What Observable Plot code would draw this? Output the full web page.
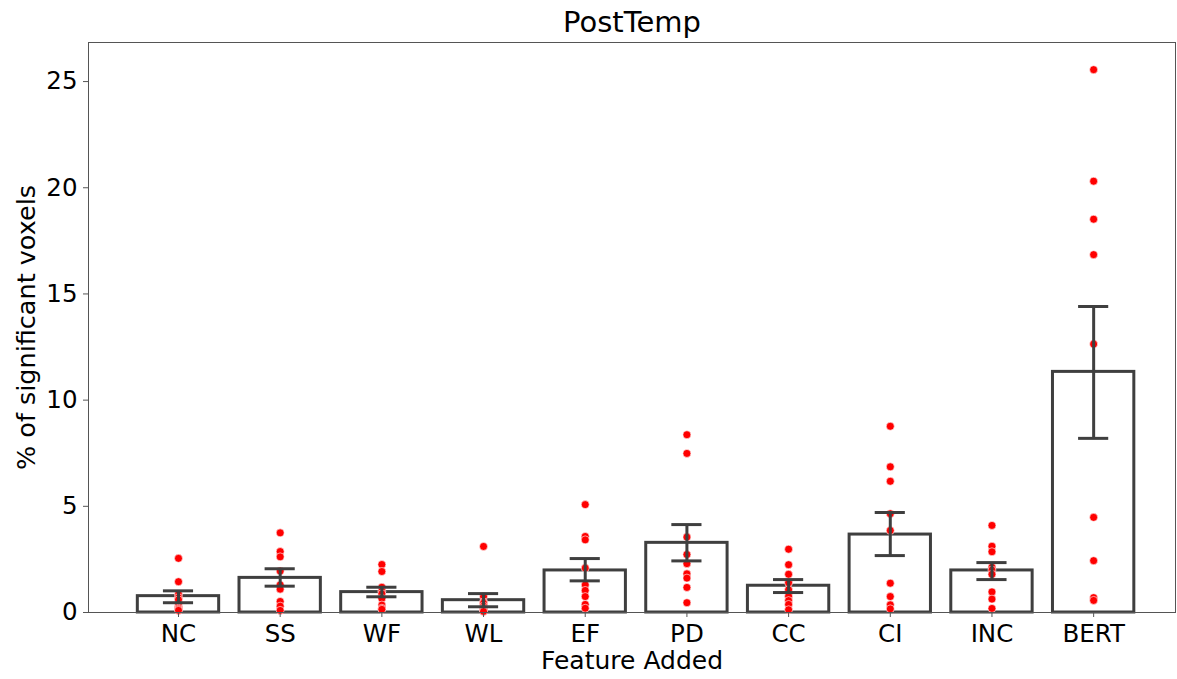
<!DOCTYPE html>
<html>
<head>
<meta charset="utf-8">
<script src="https://cdn.jsdelivr.net/npm/d3@7"></script>
<script src="https://cdn.jsdelivr.net/npm/@observablehq/plot@0.6"></script>
<style>
  html, body { margin: 0; padding: 0; background: #fff; }
  #chart svg { display: block; }
</style>
</head>
<body>
<div id="chart"></div>
<script>
const categories = ["NC", "SS", "WF", "WL", "EF", "PD", "CC", "CI", "INC", "BERT"];
const means   = [0.77, 1.63, 0.96, 0.58, 1.98, 3.28, 1.26, 3.67, 1.98, 11.33];
const errLow  = [0.46, 1.24, 0.74, 0.27, 1.49, 2.43, 0.94, 2.68, 1.55, 8.20];
const errHigh = [1.02, 2.06, 1.19, 0.89, 2.54, 4.14, 1.55, 4.71, 2.35, 14.41];
const subjectValues = {
  NC:   [2.55, 1.45, 0.85, 0.70, 0.60, 0.30, 0.20, 0.15, 0.10],
  SS:   [3.75, 2.87, 2.62, 1.95, 1.30, 1.10, 0.52, 0.30, 0.10],
  WF:   [2.26, 1.93, 1.19, 1.00, 0.88, 0.66, 0.35, 0.20, 0.15],
  WL:   [3.11, 0.75, 0.50, 0.44, 0.30, 0.20, 0.15, 0.10, 0.05],
  EF:   [5.08, 3.58, 3.42, 2.09, 1.30, 1.04, 0.75, 0.38, 0.20],
  PD:   [8.37, 7.49, 3.55, 2.73, 2.30, 1.82, 1.62, 1.18, 0.46],
  CC:   [2.98, 2.25, 1.80, 1.40, 1.07, 0.77, 0.56, 0.38, 0.13],
  CI:   [8.77, 6.86, 6.18, 4.65, 3.86, 1.38, 0.75, 0.36, 0.17],
  INC:  [4.10, 3.12, 2.86, 2.13, 2.00, 1.80, 0.97, 0.63, 0.19],
  BERT: [25.56, 20.31, 18.52, 16.85, 12.64, 4.48, 2.44, 0.70, 0.57]
};
const yTicks = [0, 5, 10, 15, 20, 25];

const bars = categories.map((c, i) => ({cat: c, mean: means[i], lo: errLow[i], hi: errHigh[i]}));
const points = categories.flatMap(c => subjectValues[c].map(v => ({cat: c, v})));

const ink = "#3f3f3f";
const font = "DejaVu Sans, sans-serif";

const chart = Plot.plot({
  width: 1177,
  height: 679,
  marginLeft: 88,
  marginRight: 2,
  marginTop: 42,
  marginBottom: 67,
  style: {fontFamily: font, background: "#fff", color: "#000"},
  x: {domain: categories, paddingInner: 0.2, paddingOuter: 0.445, align: 0.545, round: false, axis: null},
  y: {domain: [0, 26.84], axis: null},
  marks: [
    Plot.barY(bars, {x: "cat", y: "mean", fill: "white", stroke: ink, strokeWidth: 3}),
    Plot.dot(points, {x: "cat", y: "v", r: 4, fill: "#ff0000", stroke: "white", strokeWidth: 0.6}),
    Plot.ruleX(bars, {x: "cat", y1: "lo", y2: "hi", stroke: ink, strokeWidth: 3}),
    Plot.tickY(bars, {x: "cat", y: "lo", stroke: ink, strokeWidth: 3, insetLeft: 25.6, insetRight: 25.6}),
    Plot.tickY(bars, {x: "cat", y: "hi", stroke: ink, strokeWidth: 3, insetLeft: 25.6, insetRight: 25.6}),
    Plot.frame({stroke: "#555", strokeWidth: 1}),
    Plot.axisX({tickSize: 5, tickPadding: 7, fontSize: 24.5, label: null, stroke: "#555", color: "#000"}),
    Plot.axisY({ticks: yTicks, tickSize: 5, tickPadding: 6, fontSize: 24.5, label: null, tickFormat: d => String(d), stroke: "#555"}),
    Plot.text(["Feature Added"], {frameAnchor: "bottom", lineAnchor: "middle", dy: 48, fontSize: 25, fill: "#000"}),
    Plot.text(["% of significant voxels"], {frameAnchor: "left", textAnchor: "middle", lineAnchor: "middle", dx: -62, rotate: -90, fontSize: 25.5, fill: "#000"}),
    Plot.text(["PostTemp"], {frameAnchor: "top", lineAnchor: "middle", dy: -20, fontSize: 29, fill: "#000"})
  ]
});
document.getElementById("chart").appendChild(chart);
</script>
</body>
</html>
